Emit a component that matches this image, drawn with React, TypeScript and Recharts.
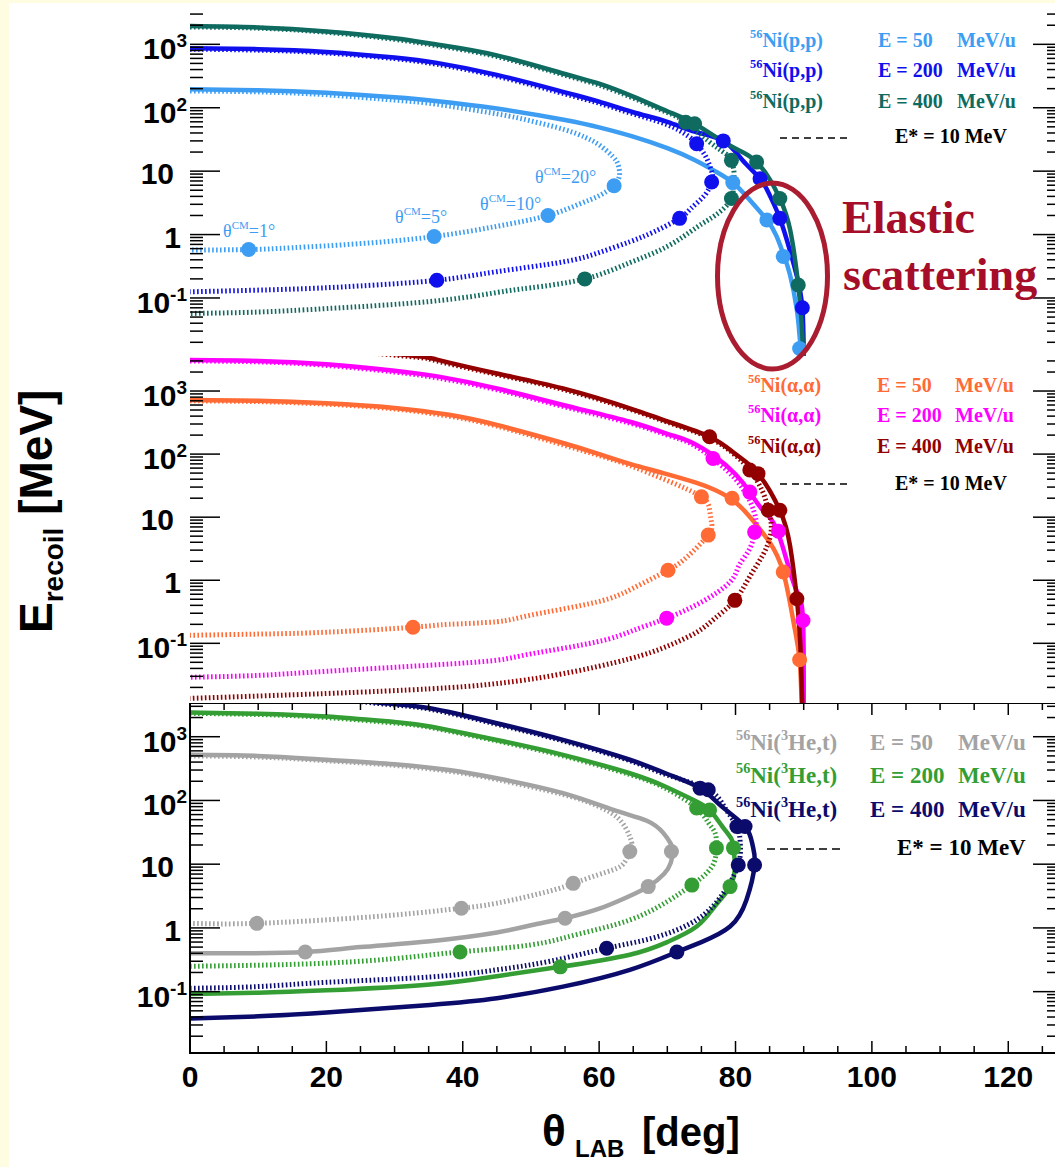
import { ComposedChart, Line, Scatter, XAxis, YAxis } from "recharts";

type P = [number, number];

// ---------- panel 1: 56Ni(p,p) ----------
const pp50El: P[] = [[0,195],[10,189],[20,172],[30,146],[36,128],[45,97],[55,64],[60,49],[65,35],[70,23],[74,15],[77,10],[79.6,6.6],[82,3.6],[84.6,1.7],[86,0.95],[87,0.5],[88,0.23],[89,0.065],[89.4,0.025],[89.8,0.01]];
const pp50Ex: P[] = [[0,184],[10,178],[20,160],[30,132],[36,114],[45,80],[50,62],[55,45],[58,34],[60,26],[62,17],[62.8,12.5],[63,9],[62.8,7.3],[62.2,5.9],[60,4.1],[57,3.0],[52.5,2.0],[45,1.35],[35.8,0.93],[25,0.72],[15,0.62],[8.6,0.58],[0,0.57]];
const pp50Mk: P[] = [[8.6,0.58],[35.8,0.93],[52.5,2.0],[62.2,5.9],[79.6,6.6],[84.6,1.7],[87,0.45],[89.4,0.016]];

const pp200El: P[] = [[0,870],[10,840],[20,760],[30,620],[36.2,510],[45,330],[55,175],[60,125],[65,85],[70,60],[74,42],[78.2,30],[81,15],[83.6,7.6],[85,4.2],[86.5,1.8],[88,0.55],[89,0.22],[89.8,0.07],[90,0.01]];
const pp200Ex: P[] = [[0,840],[10,810],[20,730],[30,595],[36.2,485],[45,315],[55,165],[60,118],[65,80],[70,54],[73,36],[74.3,27],[75.5,18],[76.2,12.3],[76.6,9],[76.5,6.75],[75.5,4.2],[73.5,2.6],[71.8,1.8],[68,1.1],[64.5,0.77],[60,0.52],[54.7,0.37],[45,0.26],[36.2,0.19],[25,0.155],[15,0.138],[0,0.125]];
const pp200Mk: P[] = [[36.2,0.19],[71.8,1.8],[76.5,6.75],[74.3,27],[78.2,30],[83.6,7.6],[86.5,1.8],[89.8,0.07]];

const pp400El: P[] = [[0,1940],[10,1850],[20,1600],[30,1250],[36,1000],[45,670],[55,340],[60,240],[65,150],[70,88],[74,56],[78,30],[81,20],[83.1,13.9],[85,7.5],[86.5,3.7],[88,1.2],[89.2,0.16],[89.7,0.04],[90,0.01]];
const pp400Ex: P[] = [[0,1880],[10,1800],[20,1550],[30,1200],[36,960],[45,640],[55,325],[60,228],[65,142],[70,84],[72.7,59],[76,30],[78.5,19],[79.4,14.8],[79.8,9],[79.6,6.8],[79.4,3.7],[77,2.0],[74.3,1.3],[70,0.65],[64.5,0.36],[57.9,0.2],[50,0.145],[45,0.122],[35.2,0.088],[20,0.068],[10,0.06],[0,0.057]];
const pp400Mk: P[] = [[57.9,0.2],[79.4,3.7],[79.4,14.8],[72.7,59],[74,56],[83.1,13.9],[86.5,3.7],[89.2,0.16]];

// ---------- panel 2: 56Ni(a,a) ----------
const aa50El: P[] = [[0,720],[10,700],[20,640],[30,540],[38,420],[45,290],[54.7,150],[60,100],[64.5,70],[69.4,50],[74.3,35],[77,27],[79.5,19],[81.5,12],[83.1,7.5],[85,4],[87,1.35],[88.5,0.22],[89.4,0.055],[89.7,0.01]];
const aa50Ex: P[] = [[0,700],[10,680],[20,620],[30,520],[38,400],[45,278],[54.7,140],[60,95],[64.5,66],[70,38],[75,21],[76.2,13],[76.5,8],[76,5.2],[73,2.4],[70.1,1.44],[65,0.75],[59.6,0.45],[50,0.28],[45,0.22],[38,0.2],[32.7,0.18],[20,0.15],[10,0.14],[0,0.134]];
const aa50Mk: P[] = [[32.7,0.18],[70.1,1.44],[76,5.2],[75,21],[79.5,20],[87,1.35],[89.4,0.055]];

const aa200El: P[] = [[0,3100],[10,3000],[20,2650],[30,2100],[36.5,1690],[45,1100],[54.7,600],[64.5,326],[70,210],[73.3,158],[77,91],[80,48],[82.1,25],[84,13],[86,6.6],[88,1.35],[89.2,0.6],[89.9,0.23],[90,0.01]];
const aa200Ex: P[] = [[0,3000],[10,2900],[20,2550],[30,2000],[36.5,1600],[45,1050],[54.7,570],[64.5,310],[70,200],[73.3,150],[76.7,85],[80,40],[82.1,18],[83,9],[82.8,5.8],[82.1,3.2],[80.5,1.7],[79.2,0.94],[75,0.45],[69.9,0.25],[65,0.16],[59.6,0.105],[50,0.068],[45,0.054],[35.2,0.045],[20,0.036],[10,0.031],[0,0.029]];
const aa200Mk: P[] = [[69.9,0.25],[82.8,5.8],[76.7,85],[82.1,25],[86.3,6],[89.9,0.23]];

const aa400El: P[] = [[0,5600],[20,4700],[33,3600],[36.2,3150],[45,1900],[54.7,1100],[64.5,533],[70,330],[76.2,188],[80,100],[83.3,49],[86.5,12.9],[88,3.5],[89,0.51],[89.5,0.1],[89.8,0.01]];
const aa400Ex: P[] = [[0,5400],[20,4500],[33,3450],[36.2,3000],[45,1830],[54.7,1060],[64.5,515],[70,320],[76.2,180],[80,95],[82.1,56],[84,25],[84.8,12.9],[85.2,8.4],[85.1,5],[84,2.5],[82,1.1],[79.9,0.48],[77,0.25],[74.3,0.15],[70,0.09],[64.5,0.057],[54.7,0.033],[45,0.023],[35.2,0.019],[20,0.016],[0,0.0134]];
const aa400Mk: P[] = [[76.2,188],[82.1,56],[83.3,49],[84.8,12.9],[86.5,12.9],[89,0.51],[79.9,0.48]];

// ---------- panel 3: 56Ni(3He,t) ----------
const ht50Gs: P[] = [[0,520],[10,500],[20,435],[30,370],[38,300],[45,223],[54.7,130],[62.1,71],[67,48],[69.4,31],[70.5,21],[70.8,15.8],[70.5,10.5],[69.5,7],[67.2,4.45],[64,3.0],[60,2.0],[55,1.42],[50,1.1],[45,0.85],[35.2,0.62],[25,0.5],[16.9,0.42],[8,0.4],[0,0.4]];
const ht50Ex: P[] = [[0,500],[10,480],[20,420],[30,355],[38,288],[45,213],[54.7,124],[60,80],[63,50],[64.5,27],[64.8,20],[64.5,15.8],[63.5,10],[61,7.5],[56.2,5.0],[52.8,3.8],[45,2.44],[39.8,2.04],[35.2,1.8],[25,1.45],[9.8,1.18],[0,1.18]];
const ht50Mk: P[] = [[9.8,1.18],[39.8,2.04],[56.2,5.0],[64.5,15.8],[16.9,0.42],[55,1.42],[67.2,4.45],[70.6,15.8]];

const ht200Gs: P[] = [[0,2400],[10,2300],[20,2080],[30,1700],[35.2,1450],[45,890],[54.7,520],[64.5,267],[70,160],[74,100],[76.2,71],[78,40],[79.4,25],[79.7,18],[79.9,9.2],[79.2,4.45],[77,2.2],[74.3,1.05],[70,0.6],[64.5,0.38],[54.3,0.245],[45,0.175],[35.2,0.13],[20,0.105],[10,0.096],[0,0.092]];
const ht200Ex: P[] = [[0,2330],[10,2230],[20,2000],[30,1640],[35.2,1400],[45,860],[54.7,500],[64.5,255],[70,150],[74.3,76],[76,45],[77,31],[77.2,18],[76.5,9],[73.6,4.7],[70,2.6],[64.5,1.33],[57,0.8],[49.9,0.54],[39.6,0.42],[30,0.33],[20,0.28],[10,0.26],[0,0.25]];
const ht200Mk: P[] = [[39.6,0.42],[73.6,4.7],[77.2,18],[74.3,76],[76.2,71],[79.7,18],[79.2,4.45],[54.3,0.245]];

const ht400Gs: P[] = [[0,5200],[15,4700],[27.9,3400],[35.2,2800],[45,1630],[54.7,890],[64.5,435],[70,260],[74.8,156],[78,80],[81.4,39],[82.5,20],[82.8,9.7],[81.6,2.75],[79.2,1.05],[75,0.6],[71.4,0.42],[64.5,0.22],[54.7,0.12],[45,0.079],[35.2,0.062],[20,0.047],[10,0.041],[0,0.038]];
const ht400Ex: P[] = [[0,5000],[15,4500],[27.9,3300],[35.2,2700],[45,1570],[54.7,860],[64.5,420],[70,250],[76,147],[78.5,75],[80.2,39],[80.7,21],[80.4,9.7],[78.2,3.5],[74.3,1.34],[68,0.7],[61.1,0.48],[52.8,0.3],[45,0.22],[35.2,0.17],[20,0.14],[10,0.12],[0,0.113]];
const ht400Mk: P[] = [[61.1,0.48],[74.8,156],[76,147],[80.2,39],[81.4,39],[80.4,9.7],[82.8,9.7],[71.4,0.42]];

const xTicks = [0,5,10,15,20,25,30,35,40,45,50,55,60,65,70,75,80,85,90,95,100,105,110,115,120,125];

const C = {
  lb: "#3d9df2", bl: "#1010ee", te: "#0f6b60",
  or: "#ff6a35", mg: "#ff00ff", dr: "#930000",
  gr: "#a3a3a3", gn: "#349e34", nv: "#0b0b6b",
};

const SANS = "'Liberation Sans', Arial, sans-serif";
const SERIF = "'Liberation Serif', 'Times New Roman', serif";
const PW = 866;
const X_MAX = 127;

const xy = (pts: P[]) => pts.map(([x, y]) => ({ x, y }));

function logTicks(lo: number, hi: number) {
  const out: number[] = [];
  for (let e = -3; e <= 4; e++)
    for (let m = 1; m <= 9; m++) {
      const v = +(m * Math.pow(10, e)).toPrecision(3);
      if (v >= lo && v <= hi) out.push(v);
    }
  return out;
}

function yTick(props: any) {
  const { x, y, payload } = props;
  const v = payload.value as number;
  const lg = Math.log10(v);
  const e = Math.round(lg);
  const major = Math.abs(lg - e) < 1e-6;
  let label = null;
  if (major) {
    const st = { fontFamily: SANS, fontWeight: 700, fontSize: 30, fill: "#000" } as const;
    if (e === 0) label = <text x={x - 9} y={y + 13} textAnchor="end" {...st}>1</text>;
    else if (e === 1) label = <text x={x - 16} y={y + 13} textAnchor="end" {...st}>10</text>;
    else
      label = (
        <text x={x - 3} y={y + 15} textAnchor="end" {...st}>
          10<tspan dy={-12} fontSize={19}>{e}</tspan>
        </text>
      );
  }
  return (
    <g>
      <line x1={x} x2={x + (major ? 30 : 13)} y1={y} y2={y} stroke="#000" strokeWidth={1.5} />
      <line x1={x + PW} x2={x + PW - (major ? 23 : 9)} y1={y} y2={y} stroke="#000" strokeWidth={1.5} />
      {label}
    </g>
  );
}

function makeXTick(ph: number, labels: boolean) {
  return (props: any) => {
    const { x, y, payload } = props;
    const v = payload.value as number;
    const major = v % 20 === 0;
    const len = major ? 12 : 7;
    return (
      <g>
        {v === 0 && <rect x={x} y={y - ph} width={PW} height={ph} fill="none" stroke="#000" strokeWidth={2} />}
        <line x1={x} x2={x} y1={y} y2={y - len} stroke="#000" strokeWidth={1.5} />
        <line x1={x} x2={x} y1={y - ph} y2={y - ph + len} stroke="#000" strokeWidth={1.5} />
        {labels && major && (
          <text x={x} y={y + 34} textAnchor="middle" fontFamily={SANS} fontWeight={700} fontSize={30} fill="#000">
            {v}
          </text>
        )}
      </g>
    );
  };
}

interface Curve { pts: P[]; color: string; dashed: boolean }
interface Marks { pts: P[]; color: string }

function Panel(props: { top: number; height: number; yDomain: [number, number]; curves: Curve[]; marks: Marks[]; xLabels: boolean }) {
  const { top, height, yDomain, curves, marks, xLabels } = props;
  const extra = xLabels ? 50 : 0;
  return (
    <div style={{ position: "absolute", left: 0, top, width: 1056, height: height + extra }}>
      <ComposedChart width={1056} height={height + extra} margin={{ top: 0, right: 0, bottom: 0, left: 0 }}>
        <XAxis
          dataKey="x" type="number" domain={[0, X_MAX]} allowDataOverflow ticks={xTicks} interval={0}
          height={extra} tickSize={0} tickMargin={0} tickLine={false} axisLine={false}
          tick={makeXTick(height, xLabels)}
        />
        <YAxis
          dataKey="y" type="number" scale="log" domain={yDomain} allowDataOverflow
          ticks={logTicks(yDomain[0], yDomain[1])} interval={0} width={190}
          tickSize={0} tickMargin={0} tickLine={false} axisLine={false} tick={yTick}
        />
        {curves.map((c, i) => (
          <Line
            key={"c" + i} data={xy(c.pts)} dataKey="y" type="natural" stroke={c.color}
            strokeWidth={c.dashed ? 5 : 4.5} strokeDasharray={c.dashed ? "1.6 2.4" : undefined}
            dot={false} activeDot={false} isAnimationActive={false}
          />
        ))}
        {marks.map((m, i) => (
          <Scatter
            key={"m" + i} data={xy(m.pts)} dataKey="y" isAnimationActive={false}
            shape={(p: any) => <circle cx={p.cx} cy={p.cy} r={7.5} fill={m.color} />}
          />
        ))}
      </ComposedChart>
    </div>
  );
}

function LegendRow(props: { x: number; y: number; size: number; color: string; reac: React.ReactNode; ex: number; e: string; ux: number }) {
  const { x, y, size, color, reac, ex, e, ux } = props;
  const st = { fontFamily: SERIF, fontWeight: 700, fill: color } as const;
  return (
    <g>
      <text x={x} y={y} fontSize={size} {...st}>
        <tspan fontSize={size * 0.62} dy={-size * 0.45}>56</tspan>
        <tspan dy={size * 0.45}>{reac}</tspan>
      </text>
      <text x={ex} y={y} fontSize={size} {...st}>{e}</text>
      <text x={ux} y={y} fontSize={size} {...st}>MeV/u</text>
    </g>
  );
}

function HeT(size: number) {
  return (
    <>
      Ni(<tspan fontSize={size * 0.62} dy={-size * 0.45}>3</tspan>
      <tspan dy={size * 0.45}>He,t)</tspan>
    </>
  );
}

function ThetaLabel(props: { x: number; y: number; deg: string }) {
  return (
    <text x={props.x} y={props.y} fontFamily={SERIF} fontSize={18} fill={C.lb}>
      θ<tspan fontSize={11} dy={-8}>CM</tspan>
      <tspan dy={8}>={props.deg}°</tspan>
    </text>
  );
}

export default function App() {
  return (
    <div style={{ position: "absolute", left: 0, top: 0, width: 1055, height: 1167, background: "#fffde1", overflow: "hidden" }}>
      <div style={{ position: "absolute", left: 9, top: 3, width: 1046, height: 1164, background: "#fff" }} />
      <Panel
        top={13} height={343} yDomain={[0.01216, 3119]} xLabels={false}
        curves={[
          { pts: pp50El, color: C.lb, dashed: false }, { pts: pp50Ex, color: C.lb, dashed: true },
          { pts: pp200El, color: C.bl, dashed: false }, { pts: pp200Ex, color: C.bl, dashed: true },
          { pts: pp400El, color: C.te, dashed: false }, { pts: pp400Ex, color: C.te, dashed: true },
        ]}
        marks={[{ pts: pp50Mk, color: C.lb }, { pts: pp200Mk, color: C.bl }, { pts: pp400Mk, color: C.te }]}
      />
      <Panel
        top={356} height={347} yDomain={[0.01132, 3592]} xLabels={false}
        curves={[
          { pts: aa50El, color: C.or, dashed: false }, { pts: aa50Ex, color: C.or, dashed: true },
          { pts: aa200El, color: C.mg, dashed: false }, { pts: aa200Ex, color: C.mg, dashed: true },
          { pts: aa400El, color: C.dr, dashed: false }, { pts: aa400Ex, color: C.dr, dashed: true },
        ]}
        marks={[{ pts: aa50Mk, color: C.or }, { pts: aa200Mk, color: C.mg }, { pts: aa400Mk, color: C.dr }]}
      />
      <Panel
        top={703} height={350} yDomain={[0.0109, 3381]} xLabels={true}
        curves={[
          { pts: ht50Gs, color: C.gr, dashed: false }, { pts: ht50Ex, color: C.gr, dashed: true },
          { pts: ht200Gs, color: C.gn, dashed: false }, { pts: ht200Ex, color: C.gn, dashed: true },
          { pts: ht400Gs, color: C.nv, dashed: false }, { pts: ht400Ex, color: C.nv, dashed: true },
        ]}
        marks={[{ pts: ht50Mk, color: C.gr }, { pts: ht200Mk, color: C.gn }, { pts: ht400Mk, color: C.nv }]}
      />
      <svg width={1055} height={1167} style={{ position: "absolute", left: 0, top: 0, pointerEvents: "none" }}>
        {/* axis titles */}
        <text transform="translate(52,633) rotate(-90)" fontFamily={SANS} fontWeight={700} fontSize={46} fill="#000">
          E<tspan fontSize={28} dy={11}>recoil</tspan>
          <tspan dy={-11}> [MeV]</tspan>
        </text>
        <text y={1146} fontFamily={SANS} fontWeight={700} fontSize={40} fill="#000">
          <tspan x={542} fontSize={44}>θ</tspan>
          <tspan x={575} fontSize={24} dy={11}>LAB</tspan>
          <tspan x={642} dy={-11}>[deg]</tspan>
        </text>

        {/* panel 1 legend */}
        <LegendRow x={750} y={46.7} size={20} color={C.lb} reac="Ni(p,p)" ex={878} e="E = 50" ux={957} />
        <LegendRow x={750} y={77.3} size={20} color={C.bl} reac="Ni(p,p)" ex={878} e="E = 200" ux={957} />
        <LegendRow x={750} y={108} size={20} color={C.te} reac="Ni(p,p)" ex={878} e="E = 400" ux={957} />
        <line x1={780} x2={848} y1={138} y2={138} stroke="#000" strokeWidth={1.5} strokeDasharray="7 5" />
        <text x={895} y={143} fontFamily={SERIF} fontWeight={700} fontSize={20} fill="#000">E* = 10 MeV</text>

        {/* panel 2 legend */}
        <LegendRow x={748} y={391.7} size={20} color={C.or} reac="Ni(α,α)" ex={877} e="E = 50" ux={955} />
        <LegendRow x={748} y={421.7} size={20} color={C.mg} reac="Ni(α,α)" ex={877} e="E = 200" ux={955} />
        <LegendRow x={748} y={453.3} size={20} color={C.dr} reac="Ni(α,α)" ex={877} e="E = 400" ux={955} />
        <line x1={780} x2={848} y1={484} y2={484} stroke="#000" strokeWidth={1.5} strokeDasharray="7 5" />
        <text x={895} y={490} fontFamily={SERIF} fontWeight={700} fontSize={20} fill="#000">E* = 10 MeV</text>

        {/* panel 3 legend */}
        <LegendRow x={736} y={750} size={23} color={C.gr} reac={HeT(23)} ex={870} e="E = 50" ux={958} />
        <LegendRow x={736} y={783} size={23} color={C.gn} reac={HeT(23)} ex={870} e="E = 200" ux={958} />
        <LegendRow x={736} y={817} size={23} color={C.nv} reac={HeT(23)} ex={870} e="E = 400" ux={958} />
        <line x1={767} x2={843} y1={849} y2={849} stroke="#000" strokeWidth={1.5} strokeDasharray="8 5" />
        <text x={897} y={855} fontFamily={SERIF} fontWeight={700} fontSize={23} fill="#000">E* = 10 MeV</text>

        {/* theta_CM annotations */}
        <ThetaLabel x={223} y={237} deg="1" />
        <ThetaLabel x={395} y={223} deg="5" />
        <ThetaLabel x={480} y={210} deg="10" />
        <ThetaLabel x={535} y={183} deg="20" />

        {/* elastic scattering highlight */}
        <ellipse cx={772.5} cy={276} rx={55} ry={93} fill="none" stroke="#aa1c30" strokeWidth={5} />
        <text x={842} y={233} fontFamily={SERIF} fontWeight={700} fontSize={46} fill="#a50d28">Elastic</text>
        <text x={843} y={290} fontFamily={SERIF} fontWeight={700} fontSize={46} fill="#a50d28">scattering</text>
      </svg>
    </div>
  );
}
